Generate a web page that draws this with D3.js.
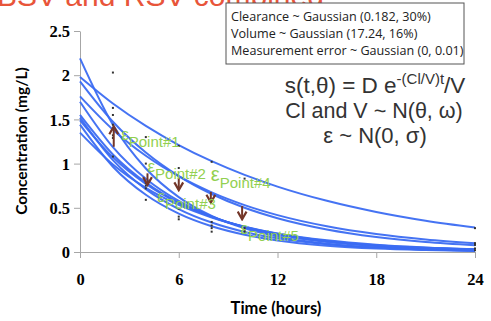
<!DOCTYPE html>
<html>
<head>
<meta charset="utf-8">
<script src="https://cdn.jsdelivr.net/npm/d3@7"></script>
<style>
  body { margin: 0; background: #fff; }
  svg { display: block; }
</style>
</head>
<body>
<div id="chart"></div>
<script>
// sample times (hours) for the simulated profiles
var times = [0, 2, 4, 6, 8, 10, 12, 15, 18, 21, 24];

// simulated concentration profiles (mg/L)
var profileA = [1.98, 1.68, 1.426, 1.21, 1.027, 0.872, 0.74, 0.579, 0.453, 0.354, 0.277];
var profileB = [1.93, 1.473, 1.125, 0.859, 0.656, 0.50, 0.382, 0.255, 0.17, 0.113, 0.076];
var profileC = [1.76, 1.384, 1.089, 0.857, 0.674, 0.53, 0.417, 0.291, 0.203, 0.142, 0.099];
var profileD = [2.19, 1.439, 0.945, 0.621, 0.408, 0.268, 0.176, 0.094, 0.05, 0.027, 0.014];
var profileE = [1.70, 1.186, 0.828, 0.577, 0.403, 0.281, 0.196, 0.114, 0.067, 0.039, 0.023];
var profileF = [1.55, 1.103, 0.785, 0.559, 0.398, 0.283, 0.202, 0.121, 0.073, 0.044, 0.026];
var profileG = [1.52, 1.04, 0.711, 0.486, 0.333, 0.227, 0.155, 0.088, 0.05, 0.028, 0.016];
var profileH = [1.49, 1.071, 0.77, 0.554, 0.398, 0.286, 0.206, 0.125, 0.076, 0.047, 0.028];
var profileI = [1.44, 0.965, 0.647, 0.434, 0.291, 0.195, 0.131, 0.072, 0.039, 0.022, 0.012];
var profileJ = [1.35, 0.99, 0.726, 0.533, 0.391, 0.286, 0.21, 0.132, 0.083, 0.052, 0.033];
var profiles = [profileA, profileB, profileC, profileD, profileE, profileF, profileG, profileH, profileI, profileJ];

// observed points
var obsTimes  = [2, 2, 2, 2, 2, 2, 2, 4, 4, 4, 4, 4, 4, 6, 6, 6, 6, 6, 8, 8, 8, 8, 8, 10, 10, 10, 10, 24, 24, 24, 24, 24];
var obsValues = [2.03, 1.63, 1.55, 1.44, 1.32, 1.29, 1.08, 1.30, 1.00, 0.78, 0.75, 0.72, 0.59,
                 1.20, 0.95, 0.49, 0.40, 0.37, 1.02, 0.34, 0.30, 0.27, 0.23, 0.83, 0.27, 0.25, 0.23,
                 0.27, 0.10, 0.08, 0.04, 0.02];

// residual error arrows
var arrowTimes = [2.05, 4.1, 6.0, 7.95, 9.85];
var arrowFrom  = [1.19, 0.89, 0.84, 0.68, 0.52];
var arrowTo    = [1.42, 0.76, 0.70, 0.56, 0.37];

// epsilon labels
var epsLabels = ['Point#1', 'Point#2', 'Point#3', 'Point#4', 'Point#5'];
var epsTimes  = [2.5, 4.1, 4.7, 7.95, 9.75];
var epsValues = [1.27, 0.91, 0.57, 0.80, 0.20];

var xTicks = [0, 6, 12, 18, 24];
var yTicks = [0, 0.5, 1, 1.5, 2, 2.5];
var yTickLabels = ['0', '0.5', '1', '1.5', '2', '2.5'];

var legendLines = ['Clearance ~ Gaussian (0.182, 30%)', 'Volume ~ Gaussian (17.24, 16%)', 'Measurement error ~ Gaussian (0, 0.01)'];

var width = 491;
var height = 321;

var svg = d3.select('#chart').append('svg')
    .attr('width', width)
    .attr('height', height);

var x = d3.scaleLinear().domain([0, 24]).range([80, 475]);
var y = d3.scaleLinear().domain([0, 2.5]).range([252, 31]);

// title (cut off at the top)
svg.append('text')
    .attr('x', -3)
    .attr('y', 6)
    .attr('font-family', 'Liberation Sans, Arial, sans-serif')
    .attr('font-size', 30)
    .attr('fill', '#e8553a')
    .text('BSV and RSV combined');

// axes
var yAxis = svg.append('g')
    .attr('transform', 'translate(' + x(0) + ',0)')
    .call(d3.axisLeft(y).tickValues(yTicks).tickSize(6).tickSizeOuter(0).tickPadding(4)
        .tickFormat((d, i) => yTickLabels[i]));

var xAxis = svg.append('g')
    .attr('transform', 'translate(0,' + y(0) + ')')
    .call(d3.axisBottom(x).tickValues(xTicks).tickSize(6).tickSizeOuter(0));

[yAxis, xAxis].forEach(function (g) {
    g.select('.domain').attr('stroke', '#a6a6a6');
    g.selectAll('.tick line').attr('stroke', '#a6a6a6');
    g.selectAll('text')
        .attr('font-family', 'Liberation Serif, Times New Roman, serif')
        .attr('font-weight', 'bold')
        .attr('font-size', 16.5)
        .attr('fill', '#000');
});
xAxis.selectAll('text').attr('y', 33).attr('dy', 0);
yAxis.selectAll('text').attr('dy', '0.34em');

// axis titles
svg.append('text')
    .attr('x', 276)
    .attr('y', 314)
    .attr('text-anchor', 'middle')
    .attr('font-family', 'Lato, sans-serif')
    .attr('font-weight', 'bold')
    .attr('font-size', 16.5)
    .text('Time (hours)');

svg.append('text')
    .attr('transform', 'translate(27,141) rotate(-90)')
    .attr('text-anchor', 'middle')
    .attr('font-family', 'Lato, sans-serif')
    .attr('font-weight', 'bold')
    .attr('font-size', 15.5)
    .text('Concentration (mg/L)');

// profiles
var line = d3.line()
    .x((d, i) => x(times[i]))
    .y(d => y(d))
    .curve(d3.curveMonotoneX);

svg.append('g')
    .selectAll('path')
    .data(profiles)
    .enter().append('path')
    .attr('d', line)
    .attr('fill', 'none')
    .attr('stroke', '#3b6cf2')
    .attr('stroke-width', 2)
    .attr('stroke-opacity', 0.95);

// observations
svg.append('g')
    .selectAll('rect')
    .data(obsValues)
    .enter().append('rect')
    .attr('x', (d, i) => x(obsTimes[i]) - 1)
    .attr('y', d => y(d) - 1)
    .attr('width', 2)
    .attr('height', 2)
    .attr('fill', '#333');

// arrows
svg.append('defs').append('marker')
    .attr('id', 'head')
    .attr('viewBox', '0 0 10 10')
    .attr('refX', 8)
    .attr('refY', 5)
    .attr('markerWidth', 5.5)
    .attr('markerHeight', 5.5)
    .attr('orient', 'auto')
    .append('path')
    .attr('d', 'M1,1 L8,5 L1,9')
    .attr('fill', 'none')
    .attr('stroke', '#733628')
    .attr('stroke-width', 2);

svg.append('g')
    .selectAll('line')
    .data(arrowTimes)
    .enter().append('line')
    .attr('x1', d => x(d))
    .attr('x2', d => x(d))
    .attr('y1', (d, i) => y(arrowFrom[i]))
    .attr('y2', (d, i) => y(arrowTo[i]))
    .attr('stroke', '#733628')
    .attr('stroke-width', 2)
    .attr('marker-end', 'url(#head)');

// epsilon labels
var eps = svg.append('g')
    .selectAll('text')
    .data(epsLabels)
    .enter().append('text')
    .attr('x', (d, i) => x(epsTimes[i]))
    .attr('y', (d, i) => y(epsValues[i]))
    .attr('font-family', 'Liberation Sans, Arial, sans-serif')
    .attr('fill', '#92d050');
eps.append('tspan')
    .attr('font-size', (d, i) => i === 3 ? 20 : 17)
    .text('\u03b5');
eps.append('tspan')
    .attr('font-size', 15)
    .attr('dy', 7)
    .text(d => d);

// legend box
var legend = svg.append('g').attr('transform', 'translate(226,3)');
legend.append('rect')
    .attr('width', 238)
    .attr('height', 61)
    .attr('fill', '#fff')
    .attr('stroke', '#555')
    .attr('stroke-width', 1);
legend.selectAll('text')
    .data(legendLines)
    .enter().append('text')
    .attr('x', 5)
    .attr('y', (d, i) => 18 + i * 17)
    .attr('font-family', 'Open Sans, sans-serif')
    .attr('font-size', 12.6)
    .attr('fill', '#222')
    .text(d => d);

// model formula
var formula = svg.append('g')
    .attr('font-family', 'Liberation Sans, Arial, sans-serif')
    .attr('fill', '#333')
    .attr('text-anchor', 'middle');
var f1 = formula.append('text').attr('x', 375).attr('y', 93).attr('font-size', 22.5);
f1.append('tspan').text('s(t,\u03b8) = D e');
f1.append('tspan').attr('font-size', 15).attr('dy', -9).text('-(Cl/V)t');
f1.append('tspan').attr('dy', 9).text('/V');
formula.append('text').attr('x', 374).attr('y', 118).attr('font-size', 21.5)
    .text('Cl and V ~ N(\u03b8, \u03c9)');
formula.append('text').attr('x', 375).attr('y', 143).attr('font-size', 22)
    .text('\u03b5 ~ N(0, \u03c3)');
</script>
</body>
</html>
